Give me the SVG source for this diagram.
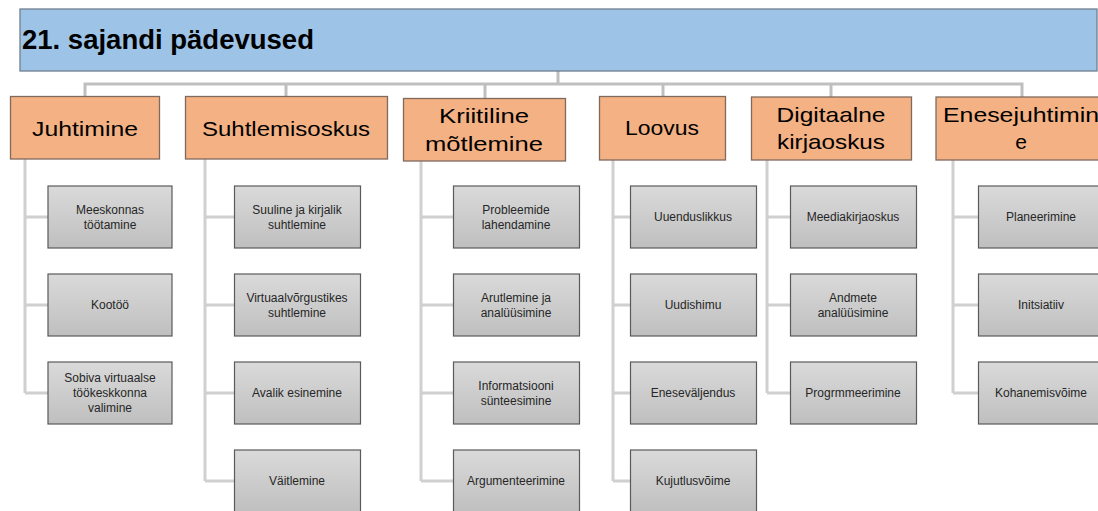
<svg xmlns="http://www.w3.org/2000/svg" width="1098" height="511" viewBox="0 0 1098 511">
<style>
.root{fill:#9dc3e6;stroke:#6f7f8f;stroke-width:1.3}
.l1{fill:#f4b183;stroke:#806a5e;stroke-width:1.3}
.l2{fill:url(#g);stroke:#5a5a5a;stroke-width:1.2}
.t0{font-family:"Liberation Sans",Arial,sans-serif;font-weight:bold;font-size:27.5px;fill:#000}
.t1{font-family:"Liberation Sans",Arial,sans-serif;font-size:21px;fill:#000;text-anchor:middle}
.t2{font-family:"Liberation Sans",Arial,sans-serif;font-size:12px;fill:#262626;text-anchor:middle}
.c1{fill:none;stroke:#bfbfbf;stroke-width:3}
.c2{fill:none;stroke:#d0d0d0;stroke-width:3}
</style>
<defs>
<linearGradient id="g" x1="0" y1="0" x2="0" y2="1">
<stop offset="0" stop-color="#dadada"/>
<stop offset="1" stop-color="#bfbfbf"/>
</linearGradient>
</defs>
<rect width="1098" height="511" fill="#fff"/>
<g id="connectors">
<path class="c1" d="M558,71V84M85,97V84H1022V97M286,84V97M485,84V99M663,84V97M831,84V97"/>
<path class="c2" d="M25,159V393M25,217H48M25,305H48M25,393H48"/>
<path class="c2" d="M205,159V481M205,217H234M205,305H234M205,393H234M205,481H234"/>
<path class="c2" d="M421,161V481M421,217H453M421,305H453M421,393H453M421,481H453"/>
<path class="c2" d="M613,160V481M613,217H630M613,305H630M613,393H630M613,481H630"/>
<path class="c2" d="M767,160V393M767,217H790M767,305H790M767,393H790"/>
<path class="c2" d="M953,160V393M953,217H978M953,305H978M953,393H978"/>
</g>
<g id="root">
<rect class="root" x="20" y="9" width="1077" height="62"/>
<text class="t0" x="22" y="49">21. sajandi pädevused</text>
</g>
<g id="juhtimine">
<rect class="l1" x="10.5" y="96.5" width="149" height="62.5"/>
<text class="t1" x="85" y="136" textLength="106" lengthAdjust="spacingAndGlyphs">Juhtimine</text>
</g>
<g id="suhtlemisoskus">
<rect class="l1" x="185.5" y="96.5" width="202" height="62.5"/>
<text class="t1" x="286" y="136" textLength="168" lengthAdjust="spacingAndGlyphs">Suhtlemisoskus</text>
</g>
<g id="kriitiline">
<rect class="l1" x="403.5" y="98.5" width="162" height="62.5"/>
<text class="t1" x="484" y="123" textLength="90" lengthAdjust="spacingAndGlyphs">Kriitiline</text>
<text class="t1" x="484" y="151" textLength="118" lengthAdjust="spacingAndGlyphs">mõtlemine</text>
</g>
<g id="loovus">
<rect class="l1" x="599.5" y="96.5" width="126" height="63.5"/>
<text class="t1" x="662" y="135" textLength="74" lengthAdjust="spacingAndGlyphs">Loovus</text>
</g>
<g id="digitaalne">
<rect class="l1" x="751.5" y="97" width="160" height="63"/>
<text class="t1" x="831" y="122" textLength="109" lengthAdjust="spacingAndGlyphs">Digitaalne</text>
<text class="t1" x="831" y="149" textLength="108" lengthAdjust="spacingAndGlyphs">kirjaoskus</text>
</g>
<g id="enesejuhtimine">
<rect class="l1" x="936" y="97" width="170" height="63"/>
<text class="t1" x="1021" y="122" textLength="156" lengthAdjust="spacingAndGlyphs">Enesejuhtimin</text>
<text class="t1" x="1021" y="149">e</text>
</g>
<g id="j1"><rect class="l2" x="48" y="186" width="124" height="62"/><text class="t2" x="110" y="213.5">Meeskonnas</text><text class="t2" x="110" y="228.5">töötamine</text></g>
<g id="j2"><rect class="l2" x="48" y="274" width="124" height="62"/><text class="t2" x="110" y="309">Kootöö</text></g>
<g id="j3"><rect class="l2" x="48" y="362" width="124" height="62"/><text class="t2" x="110" y="382">Sobiva virtuaalse</text><text class="t2" x="110" y="397">töökeskkonna</text><text class="t2" x="110" y="412">valimine</text></g>
<g id="s1"><rect class="l2" x="234.5" y="186" width="126" height="62"/><text class="t2" x="297" y="213.5">Suuline ja kirjalik</text><text class="t2" x="297" y="228.5">suhtlemine</text></g>
<g id="s2"><rect class="l2" x="234.5" y="274" width="126" height="62"/><text class="t2" x="297" y="301.5">Virtuaalvõrgustikes</text><text class="t2" x="297" y="316.5">suhtlemine</text></g>
<g id="s3"><rect class="l2" x="234.5" y="362" width="126" height="62"/><text class="t2" x="297" y="397">Avalik esinemine</text></g>
<g id="s4"><rect class="l2" x="234.5" y="450" width="126" height="62"/><text class="t2" x="297" y="485">Väitlemine</text></g>
<g id="k1"><rect class="l2" x="453.5" y="186" width="126" height="62"/><text class="t2" x="516" y="213.5">Probleemide</text><text class="t2" x="516" y="228.5">lahendamine</text></g>
<g id="k2"><rect class="l2" x="453.5" y="274" width="126" height="62"/><text class="t2" x="516" y="301.5">Arutlemine ja</text><text class="t2" x="516" y="316.5">analüüsimine</text></g>
<g id="k3"><rect class="l2" x="453.5" y="362" width="126" height="62"/><text class="t2" x="516" y="389.5">Informatsiooni</text><text class="t2" x="516" y="404.5">sünteesimine</text></g>
<g id="k4"><rect class="l2" x="453.5" y="450" width="126" height="62"/><text class="t2" x="516" y="485">Argumenteerimine</text></g>
<g id="l1"><rect class="l2" x="630.5" y="186" width="126" height="62"/><text class="t2" x="693" y="221">Uuenduslikkus</text></g>
<g id="l2"><rect class="l2" x="630.5" y="274" width="126" height="62"/><text class="t2" x="693" y="309">Uudishimu</text></g>
<g id="l3"><rect class="l2" x="630.5" y="362" width="126" height="62"/><text class="t2" x="693" y="397">Eneseväljendus</text></g>
<g id="l4"><rect class="l2" x="630.5" y="450" width="126" height="62"/><text class="t2" x="693" y="485">Kujutlusvõime</text></g>
<g id="d1"><rect class="l2" x="790.5" y="186" width="126" height="62"/><text class="t2" x="853" y="221">Meediakirjaoskus</text></g>
<g id="d2"><rect class="l2" x="790.5" y="274" width="126" height="62"/><text class="t2" x="853" y="301.5">Andmete</text><text class="t2" x="853" y="316.5">analüüsimine</text></g>
<g id="d3"><rect class="l2" x="790.5" y="362" width="126" height="62"/><text class="t2" x="853" y="397">Progrmmeerimine</text></g>
<g id="e1"><rect class="l2" x="978.5" y="186" width="126" height="62"/><text class="t2" x="1041" y="221">Planeerimine</text></g>
<g id="e2"><rect class="l2" x="978.5" y="274" width="126" height="62"/><text class="t2" x="1041" y="309">Initsiatiiv</text></g>
<g id="e3"><rect class="l2" x="978.5" y="362" width="126" height="62"/><text class="t2" x="1041" y="397">Kohanemisvõime</text></g>
</svg>
